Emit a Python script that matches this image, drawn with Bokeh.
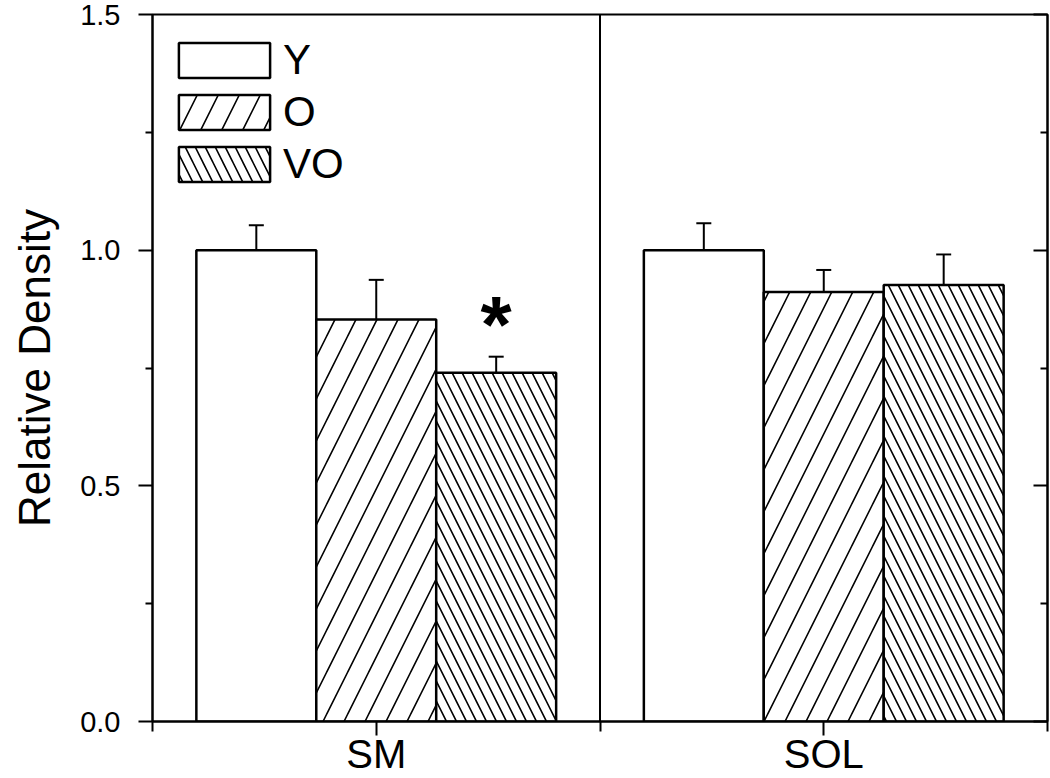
from bokeh.plotting import figure
from bokeh.models import (ColumnDataSource, FixedTicker, LinearAxis, Span, Whisker, TeeHead,
                          Legend, LegendItem, Range1d, NumeralTickFormatter, CustomJSTickFormatter)
from bokeh.core.properties import value
from bokeh.embed import file_html
from bokeh.resources import INLINE

# ---- data ----
categories = ["SM", "SOL"]
groups = ["Y", "O", "VO"]
y_vals = [1.000, 1.000]
y_err = [0.053, 0.057]
o_vals = [0.853, 0.911]
o_err = [0.084, 0.047]
vo_vals = [0.740, 0.926]
vo_err = [0.034, 0.065]
vo_significant = [True, False]
y_ticks = [0.0, 0.5, 1.0, 1.5]
y_minor = [0.25, 0.75, 1.25]

FONT = "Liberation Sans"
bar_w = 0.268
offsets = [-bar_w, 0.0, bar_w]
hatches = [None, "/", "\\"]
hatch_scales = [12, 42, 20]
centers = [i + 0.5 for i in range(len(categories))]

p = figure(width=1050, height=778, output_backend="svg", toolbar_location=None,
           x_range=Range1d(0, len(categories)), y_range=Range1d(0, 1.5),
           min_border_left=152, min_border_right=3, min_border_top=14, min_border_bottom=56,
           x_axis_type=None, y_axis_type=None)
p.xgrid.visible = False
p.ygrid.visible = False
p.outline_line_color = "black"
p.outline_line_width = 2
p.background_fill_color = "white"
p.border_fill_color = "white"

vals = [y_vals, o_vals, vo_vals]
errs = [y_err, o_err, vo_err]
renderers = []
for gi, g in enumerate(groups):
    xs = [c + offsets[gi] for c in centers]
    uppers = [v + e for v, e in zip(vals[gi], errs[gi])]
    src = ColumnDataSource(dict(x=xs, top=vals[gi], upper=uppers))
    kw = {}
    if hatches[gi]:
        kw = dict(hatch_pattern=hatches[gi], hatch_scale=hatch_scales[gi],
                  hatch_color="black", hatch_weight=1.6)
    r = p.vbar(x="x", top="top", bottom=0, width=bar_w, source=src,
               fill_color="white", line_color="black", line_width=2.5, **kw)
    renderers.append(r)
    w = Whisker(base="x", lower="top", upper="upper", source=src, dimension="height",
                line_color="black", line_width=2,
                upper_head=TeeHead(size=15, line_width=2, line_color="black"), lower_head=None)
    p.add_layout(w)

# significance star
star_x = [c + offsets[2] for c, s in zip(centers, vo_significant) if s]
star_y = [v + e for v, e, s in zip(vo_vals, vo_err, vo_significant) if s]
p.text(x=star_x, y=star_y, text=["*"] * len(star_x), text_font=value(FONT),
       text_font_size="80px", text_font_style="bold", text_align="center",
       text_baseline="alphabetic", y_offset=-32, text_color="black")

# category dividers
for i in range(1, len(categories)):
    p.add_layout(Span(location=i, dimension="height", line_color="black", line_width=2))

# axes
yax = LinearAxis(ticker=FixedTicker(ticks=y_ticks, minor_ticks=y_minor),
                 formatter=NumeralTickFormatter(format="0.0"),
                 axis_label="Relative Density")
yax2 = LinearAxis(ticker=FixedTicker(ticks=y_ticks, minor_ticks=y_minor),
                  formatter=CustomJSTickFormatter(code="return ''"))
xax = LinearAxis(ticker=FixedTicker(ticks=centers, minor_ticks=list(range(len(categories) + 1))),
                 formatter=CustomJSTickFormatter(args=dict(cats=categories),
                                                 code="return cats[Math.floor(tick)] || ''"))
for ax in (yax, yax2, xax):
    ax.axis_line_width = 2
    ax.axis_line_color = "black"
    ax.major_tick_line_width = 2
    ax.minor_tick_line_width = 2
    ax.major_tick_line_color = "black"
    ax.minor_tick_line_color = "black"
    ax.major_label_text_font = FONT
    ax.major_label_text_color = "black"
    ax.axis_label_text_font = FONT
    ax.axis_label_text_font_style = "normal"
    ax.axis_label_text_color = "black"

yax.major_tick_out = 14
yax.major_tick_in = 0
yax.minor_tick_out = 7
yax.minor_tick_in = 0
yax.major_label_text_font_size = "29px"
yax.major_label_standoff = 18
yax.axis_label_text_font_size = "44px"
yax.axis_label_standoff = 18

yax2.major_tick_out = 0
yax2.major_tick_in = 14
yax2.minor_tick_out = 0
yax2.minor_tick_in = 7
yax2.major_label_standoff = 0
yax2.major_label_text_font_size = "10px"

xax.major_tick_out = 14
xax.major_tick_in = 0
xax.minor_tick_out = 10
xax.minor_tick_in = 0
xax.major_label_text_font_size = "40px"
xax.major_label_standoff = -4

p.add_layout(yax, "left")
p.add_layout(yax2, "right")
p.add_layout(xax, "below")

legend = Legend(items=[LegendItem(label=g, renderers=[r]) for g, r in zip(groups, renderers)],
                location=(15, 533), glyph_width=114, glyph_height=44, label_height=35,
                label_text_font=FONT, label_text_font_size="42px", label_text_color="black",
                label_standoff=2, spacing=4, padding=0, margin=0,
                border_line_alpha=0, background_fill_alpha=0)
p.add_layout(legend)

open("out.html", "w").write(file_html(p, INLINE))
